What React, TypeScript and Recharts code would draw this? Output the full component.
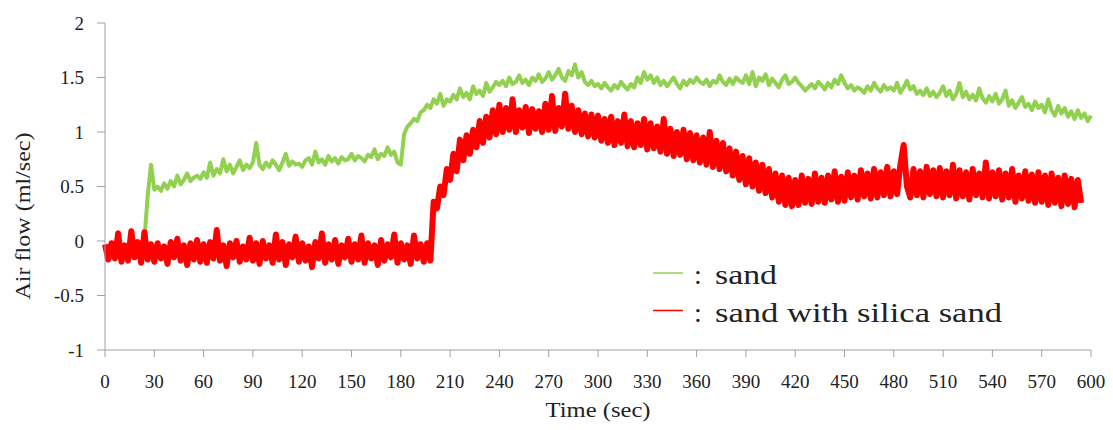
import React from "react";
import { LineChart, Line, XAxis, YAxis } from "recharts";

// Sampling interval of the recorded series (seconds)
const TIME_STEP = 2;

const xTicks = [0, 30, 60, 90, 120, 150, 180, 210, 240, 270, 300, 330, 360, 390, 420, 450, 480, 510, 540, 570, 600];
const yTicks = [-1, -0.5, 0, 0.5, 1, 1.5, 2];

const seriesNames = ["sand", "sand with silica sand"];
const seriesColors = ["#92D050", "#FF0000"];

// Air flow (ml/sec) for "sand", one value per TIME_STEP starting at t = 0
const sandValues: (number | null)[] = [
  null, null, null, null, null, null, null, null, null, null, null, null, 0.02, 0.42, 0.7,
  0.47, 0.5, 0.46, 0.53, 0.48, 0.55, 0.5, 0.6, 0.52, 0.56, 0.62, 0.55, 0.58, 0.6, 0.57,
  0.63, 0.58, 0.72, 0.6, 0.66, 0.62, 0.75, 0.64, 0.7, 0.62, 0.68, 0.74, 0.65, 0.7, 0.67,
  0.72, 0.9, 0.7, 0.66, 0.72, 0.68, 0.74, 0.7, 0.65, 0.72, 0.8, 0.69, 0.73, 0.7, 0.71,
  0.68, 0.74, 0.76, 0.7, 0.82, 0.72, 0.75, 0.7, 0.78, 0.73, 0.76, 0.71, 0.77, 0.74, 0.75,
  0.8, 0.74, 0.78, 0.76, 0.73, 0.79, 0.77, 0.84, 0.75, 0.8, 0.78, 0.86, 0.79, 0.82, 0.72,
  0.7, 0.98, 1.05, 1.08, 1.12, 1.1, 1.18, 1.2, 1.25, 1.22, 1.3, 1.26, 1.35, 1.24, 1.3,
  1.28, 1.34, 1.3, 1.4, 1.32, 1.36, 1.3, 1.42, 1.35, 1.38, 1.33, 1.45, 1.37, 1.41, 1.46,
  1.43, 1.47, 1.42, 1.5, 1.44, 1.46, 1.52, 1.45, 1.48, 1.43, 1.5, 1.47, 1.53, 1.46, 1.49,
  1.55, 1.48, 1.52, 1.58, 1.5, 1.47, 1.56, 1.52, 1.62, 1.5, 1.55, 1.46, 1.43, 1.47, 1.42,
  1.44, 1.4, 1.45, 1.41, 1.38, 1.43, 1.4, 1.46, 1.42, 1.39, 1.44, 1.41, 1.5, 1.45, 1.55,
  1.48, 1.52, 1.45, 1.5, 1.43, 1.47, 1.42, 1.46, 1.5, 1.44, 1.4, 1.47, 1.43, 1.48, 1.45,
  1.5, 1.46, 1.44, 1.48, 1.42, 1.47, 1.45, 1.52, 1.46, 1.43, 1.49, 1.44, 1.5, 1.47, 1.45,
  1.52, 1.44, 1.55, 1.42, 1.5, 1.47, 1.53, 1.43, 1.49, 1.45, 1.41, 1.48, 1.52, 1.44, 1.46,
  1.5, 1.45, 1.42, 1.38, 1.41, 1.44, 1.4, 1.46, 1.43, 1.39, 1.45, 1.41, 1.48, 1.44, 1.52,
  1.45, 1.4, 1.43, 1.38, 1.41, 1.39, 1.36, 1.42, 1.38, 1.45, 1.4, 1.37, 1.43, 1.39, 1.41,
  1.38, 1.45, 1.36, 1.41, 1.47, 1.39, 1.42, 1.35, 1.38, 1.34, 1.4, 1.33, 1.37, 1.32, 1.36,
  1.42, 1.33, 1.38, 1.3, 1.35, 1.45, 1.32, 1.37, 1.3, 1.34, 1.29, 1.4, 1.31, 1.27, 1.33,
  1.28, 1.35, 1.26, 1.3, 1.38, 1.24, 1.29, 1.22, 1.27, 1.32, 1.23, 1.26, 1.2, 1.28, 1.22,
  1.25, 1.18, 1.3, 1.2, 1.15, 1.24, 1.17, 1.22, 1.14, 1.19, 1.12, 1.2, 1.13, 1.17, 1.1, 1.15,
];

// Air flow (ml/sec) for "sand with silica sand", one value per TIME_STEP starting at t = 0
const silicaValues: number[] = [
  -0.03, -0.17, -0.02, -0.16, 0.07, -0.19, -0.04, -0.18, 0.09, -0.15, -0.01, -0.2, 0.08, -0.17, -0.03,
  -0.19, -0.02, -0.16, -0.05, -0.21, -0.01, -0.15, 0.02, -0.18, -0.04, -0.22, -0.02, -0.17, 0.01, -0.19,
  -0.03, -0.2, -0.01, -0.16, 0.1, -0.18, -0.04, -0.23, -0.02, -0.15, 0.0, -0.19, -0.05, -0.17, 0.03,
  -0.18, -0.02, -0.21, 0.0, -0.16, -0.04, -0.2, 0.06, -0.17, -0.01, -0.22, -0.03, -0.15, 0.04, -0.19,
  -0.02, -0.18, -0.05, -0.24, -0.01, -0.16, 0.07, -0.2, -0.03, -0.17, 0.01, -0.21, -0.04, -0.15, 0.02,
  -0.19, -0.03, -0.17, 0.05, -0.2, -0.02, -0.16, -0.04, -0.22, 0.01, -0.18, -0.03, -0.15, 0.06, -0.2,
  -0.02, -0.17, -0.04, -0.21, 0.05, -0.16, -0.03, -0.19, -0.02, -0.18, 0.36, 0.3, 0.5, 0.42, 0.66,
  0.56, 0.8, 0.64, 0.93, 0.74, 0.97, 0.8, 1.02, 0.86, 1.1, 0.9, 1.14, 0.95, 1.2, 0.98,
  1.25, 1.0, 1.22, 1.02, 1.3, 1.0, 1.2, 1.04, 1.23, 0.99, 1.21, 1.03, 1.19, 1.0, 1.26,
  1.02, 1.33, 1.01, 1.22, 1.05, 1.35, 1.03, 1.24, 1.0, 1.2, 0.98, 1.17, 0.96, 1.16, 0.95,
  1.15, 0.92, 1.12, 0.9, 1.14, 0.88, 1.1, 0.9, 1.16, 0.87, 1.1, 0.86, 1.08, 0.88, 1.12,
  0.84, 1.08, 0.85, 1.05, 0.82, 1.12, 0.8, 1.03, 0.78, 1.0, 0.79, 1.02, 0.75, 0.99, 0.74,
  0.97, 0.72, 0.95, 0.7, 1.0, 0.68, 0.92, 0.66, 0.9, 0.64, 0.85, 0.6, 0.82, 0.56, 0.78,
  0.52, 0.76, 0.5, 0.72, 0.46, 0.7, 0.44, 0.66, 0.4, 0.62, 0.36, 0.6, 0.33, 0.58, 0.32,
  0.56, 0.33, 0.6, 0.35, 0.57, 0.34, 0.62, 0.36, 0.58, 0.35, 0.6, 0.38, 0.64, 0.36, 0.59,
  0.37, 0.63, 0.4, 0.6, 0.38, 0.65, 0.41, 0.62, 0.39, 0.66, 0.4, 0.63, 0.42, 0.68, 0.41,
  0.64, 0.43, 0.7, 0.88, 0.5, 0.4, 0.66, 0.42, 0.64, 0.4, 0.68, 0.43, 0.65, 0.41, 0.67,
  0.4, 0.64, 0.42, 0.7, 0.39, 0.65, 0.41, 0.63, 0.38, 0.66, 0.42, 0.62, 0.4, 0.72, 0.39,
  0.63, 0.41, 0.65, 0.38, 0.62, 0.4, 0.66, 0.36, 0.6, 0.39, 0.64, 0.37, 0.61, 0.35, 0.63,
  0.36, 0.6, 0.33, 0.62, 0.35, 0.58, 0.32, 0.6, 0.34, 0.57, 0.31, 0.56, 0.35,
];

const data = sandValues.map((v, i) => ({
  t: i * TIME_STEP,
  sand: v,
  silica: i < silicaValues.length ? silicaValues[i] : null,
}));

const FONT = "'Liberation Serif', 'Times New Roman', serif";
const AXIS_COLOR = "#a0a0a0";

export default function App() {
  return (
    <div style={{ position: "absolute", left: 0, top: 0, width: 1113, height: 430, background: "#fff" }}>
      <LineChart
        width={1113}
        height={430}
        data={data}
        margin={{ top: 23, right: 22, bottom: 30, left: 0 }}
      >
        <XAxis
          dataKey="t"
          type="number"
          domain={[0, 600]}
          ticks={xTicks}
          interval={0}
          height={50}
          tickSize={7}
          tickMargin={18}
          stroke={AXIS_COLOR}
          tick={{ fill: "#222", fontSize: 19, fontFamily: FONT }}
        />
        <YAxis
          type="number"
          domain={[-1, 2]}
          ticks={yTicks}
          interval={0}
          width={105}
          tickSize={8}
          tickMargin={13}
          stroke={AXIS_COLOR}
          tick={{ fill: "#222", fontSize: 19, fontFamily: FONT }}
        />
        <Line
          dataKey="sand"
          name={seriesNames[0]}
          stroke={seriesColors[0]}
          strokeWidth={4}
          dot={false}
          isAnimationActive={false}
          strokeLinejoin="round"
        />
        <Line
          dataKey="silica"
          name={seriesNames[1]}
          stroke={seriesColors[1]}
          strokeWidth={6}
          dot={false}
          isAnimationActive={false}
          strokeLinejoin="round"
        />
      </LineChart>
      <svg
        width={1113}
        height={430}
        style={{ position: "absolute", left: 0, top: 0, pointerEvents: "none" }}
      >
        <text
          x={0}
          y={0}
          transform="translate(30,216) rotate(-90)"
          textAnchor="middle"
          fontFamily={FONT}
          fontSize={21}
          fill="#222"
          textLength={167}
          lengthAdjust="spacingAndGlyphs"
        >
          Air flow (ml/sec)
        </text>
        <text
          x={598}
          y={417}
          textAnchor="middle"
          fontFamily={FONT}
          fontSize={21}
          fill="#222"
          textLength={105}
          lengthAdjust="spacingAndGlyphs"
        >
          Time (sec)
        </text>
        {seriesNames.map((name, i) => (
          <g key={name}>
            <line
              x1={653}
              x2={683}
              y1={273 + i * 37.5}
              y2={273 + i * 37.5}
              stroke={seriesColors[i]}
              strokeWidth={1.5}
            />
            <text x={694} y={284 + i * 38} fontFamily={FONT} fontSize={28} fill="#222">
              :
            </text>
            <text
              x={715}
              y={284 + i * 38}
              fontFamily={FONT}
              fontSize={28}
              fill="#222"
              textLength={i === 0 ? 62 : 287}
              lengthAdjust="spacingAndGlyphs"
            >
              {name}
            </text>
          </g>
        ))}
      </svg>
    </div>
  );
}
